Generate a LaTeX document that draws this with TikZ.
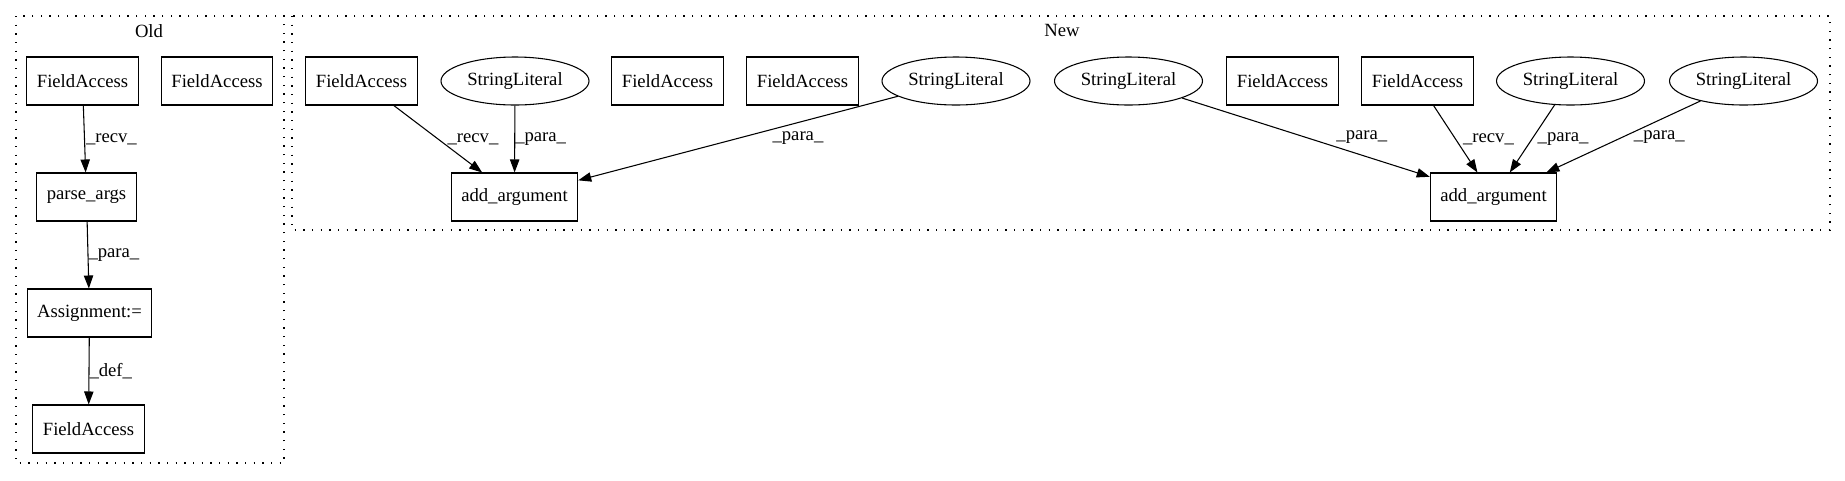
\documentclass[tikz,border=0pt]{standalone}
\usepackage{fontspec}
\setmainfont{Liberation Serif}
\usetikzlibrary{arrows.meta,shapes.geometric}

\begin{document}
\begin{tikzpicture}[x=0.75pt,y=-0.75pt,
    font=\fontsize{14}{16}\selectfont,
    box/.style={draw, rectangle, line width=0.8pt, minimum height=36pt, inner xsep=7.5pt, inner ysep=0pt},
    lit/.style={draw, ellipse, line width=0.8pt, minimum width=111pt, minimum height=36pt, inner sep=0pt},
    grp/.style={draw, line width=0.9pt, dash pattern=on 1pt off 5.5pt},
    flow/.style={-{Triangle[length=9.75pt,width=7pt]}, line width=0.8pt},
    lab/.style={anchor=west, inner sep=0pt}]
      \useasboundingbox (0,0) rectangle (1845,480);
      \draw[grp] (16,16) rectangle (284,463);
      \draw[grp] (292,16) rectangle (1830,230);
      \node (oldtitle) at (149,31) {Old};
      \node (newtitle) at (1062,30) {New};
      \node[box] (oldrecv) at (82.5,81) {FieldAccess};
      \node[box] (oldfield) at (217,81) {FieldAccess};
      \node[box] (parse) at (86.5,197) {parse\_args};
      \node[box] (assign) at (89.5,313) {Assignment:=};
      \node[box] (target) at (88.5,429) {FieldAccess};
      \node[box] (recvA) at (361.5,81) {FieldAccess};
      \node[lit] (litA) at (515,81) {StringLiteral};
      \node[box] (fieldB) at (667.5,81) {FieldAccess};
      \node[box] (fieldC) at (802.5,81) {FieldAccess};
      \node[lit] (litB) at (956,81) {StringLiteral};
      \node[lit] (litC) at (1128.5,81) {StringLiteral};
      \node[box] (fieldD) at (1282.5,81) {FieldAccess};
      \node[box] (recvB) at (1417.5,81) {FieldAccess};
      \node[lit] (litD) at (1570.5,81) {StringLiteral};
      \node[lit] (litE) at (1743.5,81) {StringLiteral};
      \node[box] (addA) at (514.5,197) {add\_argument};
      \node[box] (addB) at (1493.5,197) {add\_argument};
      \draw[flow] (oldrecv) -- node[lab, xshift=0.75pt] {\_recv\_} (parse);
      \draw[flow] (parse) -- node[lab] {\_para\_} (assign);
      \draw[flow] (assign) -- node[lab] {\_def\_} (target);
      \draw[flow] (recvA) -- node[lab, xshift=6.75pt] {\_recv\_} (addA);
      \draw[flow] (litA) -- node[lab] {\_para\_} (addA);
      \draw[flow] (litB) -- node[lab, xshift=25.5pt] {\_para\_} (addA);
      \draw[flow] (litC) -- node[lab, xshift=22.5pt] {\_para\_} (addB);
      \draw[flow] (recvB) -- node[lab, xshift=5.25pt] {\_recv\_} (addB);
      \draw[flow] (litD) -- node[lab, xshift=3.75pt] {\_para\_} (addB);
      \draw[flow] (litE) -- node[lab, xshift=7.5pt] {\_para\_} (addB);
    \end{tikzpicture}
\end{document}
